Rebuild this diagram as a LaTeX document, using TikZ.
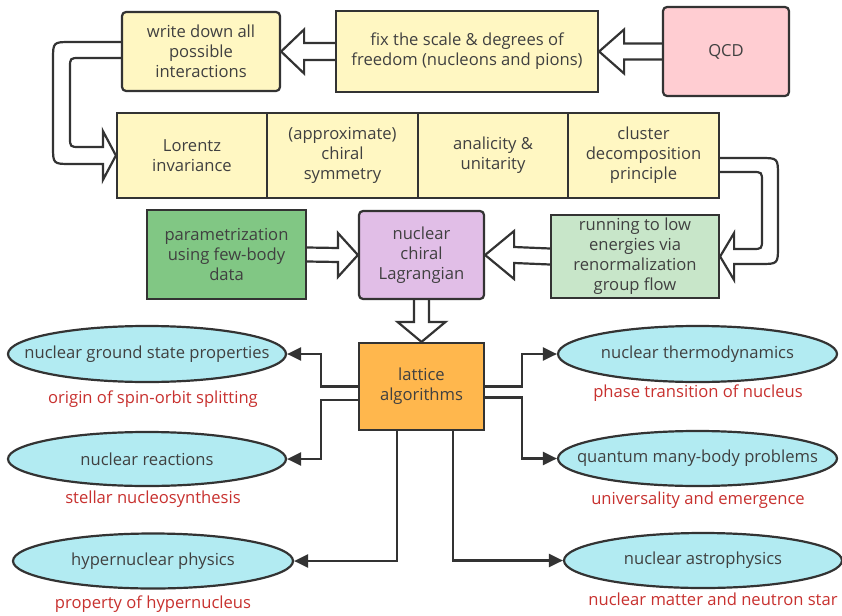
\documentclass[tikz,border=0pt]{standalone}
\usepackage{fontspec}
\setmainfont{Open Sans}
\usetikzlibrary{shapes.geometric,arrows.meta,calc}
\pgfdeclarelayer{background}
\pgfsetlayers{background,main}
\definecolor{linec}{HTML}{333333}
\definecolor{textc}{HTML}{404040}
\definecolor{yel}{HTML}{FFF7C2}
\definecolor{pinkc}{HTML}{FFCDD2}
\definecolor{greenD}{HTML}{81C784}
\definecolor{greenL}{HTML}{C8E6C9}
\definecolor{purp}{HTML}{E1BEE7}
\definecolor{oran}{HTML}{FFB74D}
\definecolor{cyanc}{HTML}{B2EBF2}
\definecolor{redc}{HTML}{C8312F}
\tikzset{
  fs/.style={font=\fontsize{16.6}{20}\selectfont},
  box/.style={draw=linec, line width=2.2pt, align=center, text=textc, inner sep=0pt, fs},
  rbox/.style={box, rounded corners=4pt},
  ell/.style={ellipse, draw=linec, line width=2.2pt, fill=cyanc, inner sep=0pt},
  elltext/.style={text=textc, inner sep=0pt, fs},
  redlab/.style={text=redc, inner sep=0pt, fs},
  hollow/.style={draw=linec, fill=white, line width=2.2pt, line join=miter},
  conn/.style={draw=linec, line width=2.2pt, -{Triangle[length=14pt,width=13pt]}},
}
\begin{document}
\begin{tikzpicture}[x=1pt,y=-1pt]
\useasboundingbox (0,0) rectangle (842,615);
% top row
\node[rbox, fill=yel, minimum width=158pt, minimum height=79pt] (write) at (201,51.5) {write down all\\possible\\interactions};
\node[box, fill=yel, minimum width=262pt, minimum height=81pt] (fix) at (467,51.5) {fix the scale \& degrees of\\freedom (nucleons and pions)};
\node[rbox, fill=pinkc, minimum width=126pt, minimum height=89pt] (qcd) at (726,51.5) {QCD};
% principles row
\node[box, fill=yel, minimum width=150pt, minimum height=85pt] (lor) at (192,155.5) {Lorentz\\invariance};
\node[box, fill=yel, minimum width=151pt, minimum height=85pt] (chi) at (342.5,155.5) {(approximate)\\chiral\\symmetry};
\node[box, fill=yel, minimum width=150pt, minimum height=85pt] (ana) at (493,155.5) {analicity \&\\unitarity};
\node[box, fill=yel, minimum width=151pt, minimum height=85pt] (clu) at (643.5,155.5) {cluster\\decomposition\\principle};
% third row
\node[box, fill=greenD, minimum width=159pt, minimum height=89pt] (par) at (226.5,254.5) {parametrization\\using few-body\\data};
\node[rbox, fill=purp, minimum width=125pt, minimum height=88pt] (lag) at (421.5,255) {nuclear\\chiral\\Lagrangian};
\node[box, fill=greenL, minimum width=168pt, minimum height=83pt] (run) at (635,256.5) {running to low\\energies via\\renormalization\\group flow};
% lattice
\node[box, fill=oran, minimum width=125pt, minimum height=87pt] (lat) at (421.5,386.5) {lattice\\algorithms};
% ellipses
\node[ell, minimum width=278pt, minimum height=56pt, label={[elltext]center:nuclear ground state properties}] (gs) at (147,354) {};
\node[ell, minimum width=278pt, minimum height=54pt, label={[elltext]center:nuclear reactions}] (reac) at (147,459) {};
\node[ell, minimum width=280pt, minimum height=55pt, label={[elltext]center:hypernuclear physics}] (hyp) at (153,561) {};
\node[ell, minimum width=279pt, minimum height=56pt, label={[elltext]center:nuclear thermodynamics}] (thermo) at (697.5,354) {};
\node[ell, minimum width=279pt, minimum height=55pt, label={[elltext]center:quantum many-body problems}] (qmb) at (697.5,458.5) {};
\node[ell, minimum width=278pt, minimum height=55pt, label={[elltext]center:nuclear astrophysics}] (astro) at (703,560.5) {};
% red labels
\node[redlab] (l1) at (153,399) {origin of spin-orbit splitting};
\node[redlab] (l2) at (153,499) {stellar nucleosynthesis};
\node[redlab] (l3) at (153,604) {property of hypernucleus};
\node[redlab] (l4) at (698,393) {phase transition of nucleus};
\node[redlab] (l5) at (698,500) {universality and emergence};
\node[redlab] (l6) at (713,599) {nuclear matter and neutron star};
% connectors
\draw[conn] (lat.west) -- ++(-37,0) |- (gs.east);
\draw[conn] ($(lat.west)+(0,13.5)$) -- ++(-37,0) |- (reac.east);
\draw[conn] ($(lat.south)+(-24.5,0)$) |- (hyp.east);
\draw[conn] (lat.east) -- ++(37,0) |- (thermo.west);
\draw[conn] ($(lat.east)+(0,11)$) -- ++(37,0) |- (qmb.west);
\draw[conn] ($(lat.south)+(31.5,0)$) |- (astro.west);
% hollow arrows
\begin{pgfonlayer}{background}
\fill[white] (0,0) rectangle (842,615);
\draw[hollow] ($(fix.west)+(0,-8.5)$) -- ($(write.east)+(23,-8.5)$) -- ($(write.east)+(23,-22)$) -- (write.east) -- ($(write.east)+(23,22)$) -- ($(write.east)+(23,8.5)$) -- ($(fix.west)+(0,8.5)$);
\draw[hollow] ($(qcd.west)+(0,-8)$) -- ($(fix.east)+(25,-8)$) -- ($(fix.east)+(25,-22)$) -- (fix.east) -- ($(fix.east)+(25,22)$) -- ($(fix.east)+(25,8)$) -- ($(qcd.west)+(0,8)$);
\draw[hollow] ($(par.east)+(0,-7)$) -- ($(lag.west)+(-20,-7)$) -- ($(lag.west)+(-20,-22)$) -- (lag.west) -- ($(lag.west)+(-20,22)$) -- ($(lag.west)+(-20,7)$) -- ($(par.east)+(0,7)$);
\draw[hollow] ($(run.west)+(0,-8)$) -- ($(lag.east)+(29,-8)$) -- ($(lag.east)+(29,-24)$) -- (lag.east) -- ($(lag.east)+(29,24)$) -- ($(lag.east)+(29,8)$) -- ($(run.west)+(0,8)$);
\draw[hollow] ($(lag.south)+(-7.5,0)$) -- ($(lat.north)+(-7.5,-20)$) -- ($(lat.north)+(-24,-20)$) -- (lat.north) -- ($(lat.north)+(24,-20)$) -- ($(lat.north)+(7.5,-20)$) -- ($(lag.south)+(7.5,0)$);
% left U arrow
\draw[hollow] ($(write.west)+(0,-9.5)$) -- (71,42) .. controls (53,42) .. (53,60) -- (53,146) .. controls (53,164) .. (71,164) -- ($(lor.west)+(-13,8.5)$) -- ($(lor.west)+(-13,24.5)$) -- (lor.west) -- ($(lor.west)+(-13,-24.5)$) -- ($(lor.west)+(-13,-8.5)$) -- (80,147) .. controls (70,147) .. (70,137) -- (70,68) .. controls (70,58) .. (80,58) -- ($(write.west)+(0,6.5)$);
% right U arrow
\draw[hollow] ($(clu.east)+(0,2.5)$) -- (760,158) .. controls (778,158) .. (778,176) -- (778,246) .. controls (778,264) .. (760,264) -- ($(run.east)+(14,7.5)$) -- ($(run.east)+(14,23.5)$) -- (run.east) -- ($(run.east)+(14,-23.5)$) -- ($(run.east)+(14,-7.5)$) -- (752,249) .. controls (762,249) .. (762,239) -- (762,182) .. controls (762,172) .. (752,172) -- ($(clu.east)+(0,16.5)$);
\end{pgfonlayer}
\end{tikzpicture}
\end{document}
